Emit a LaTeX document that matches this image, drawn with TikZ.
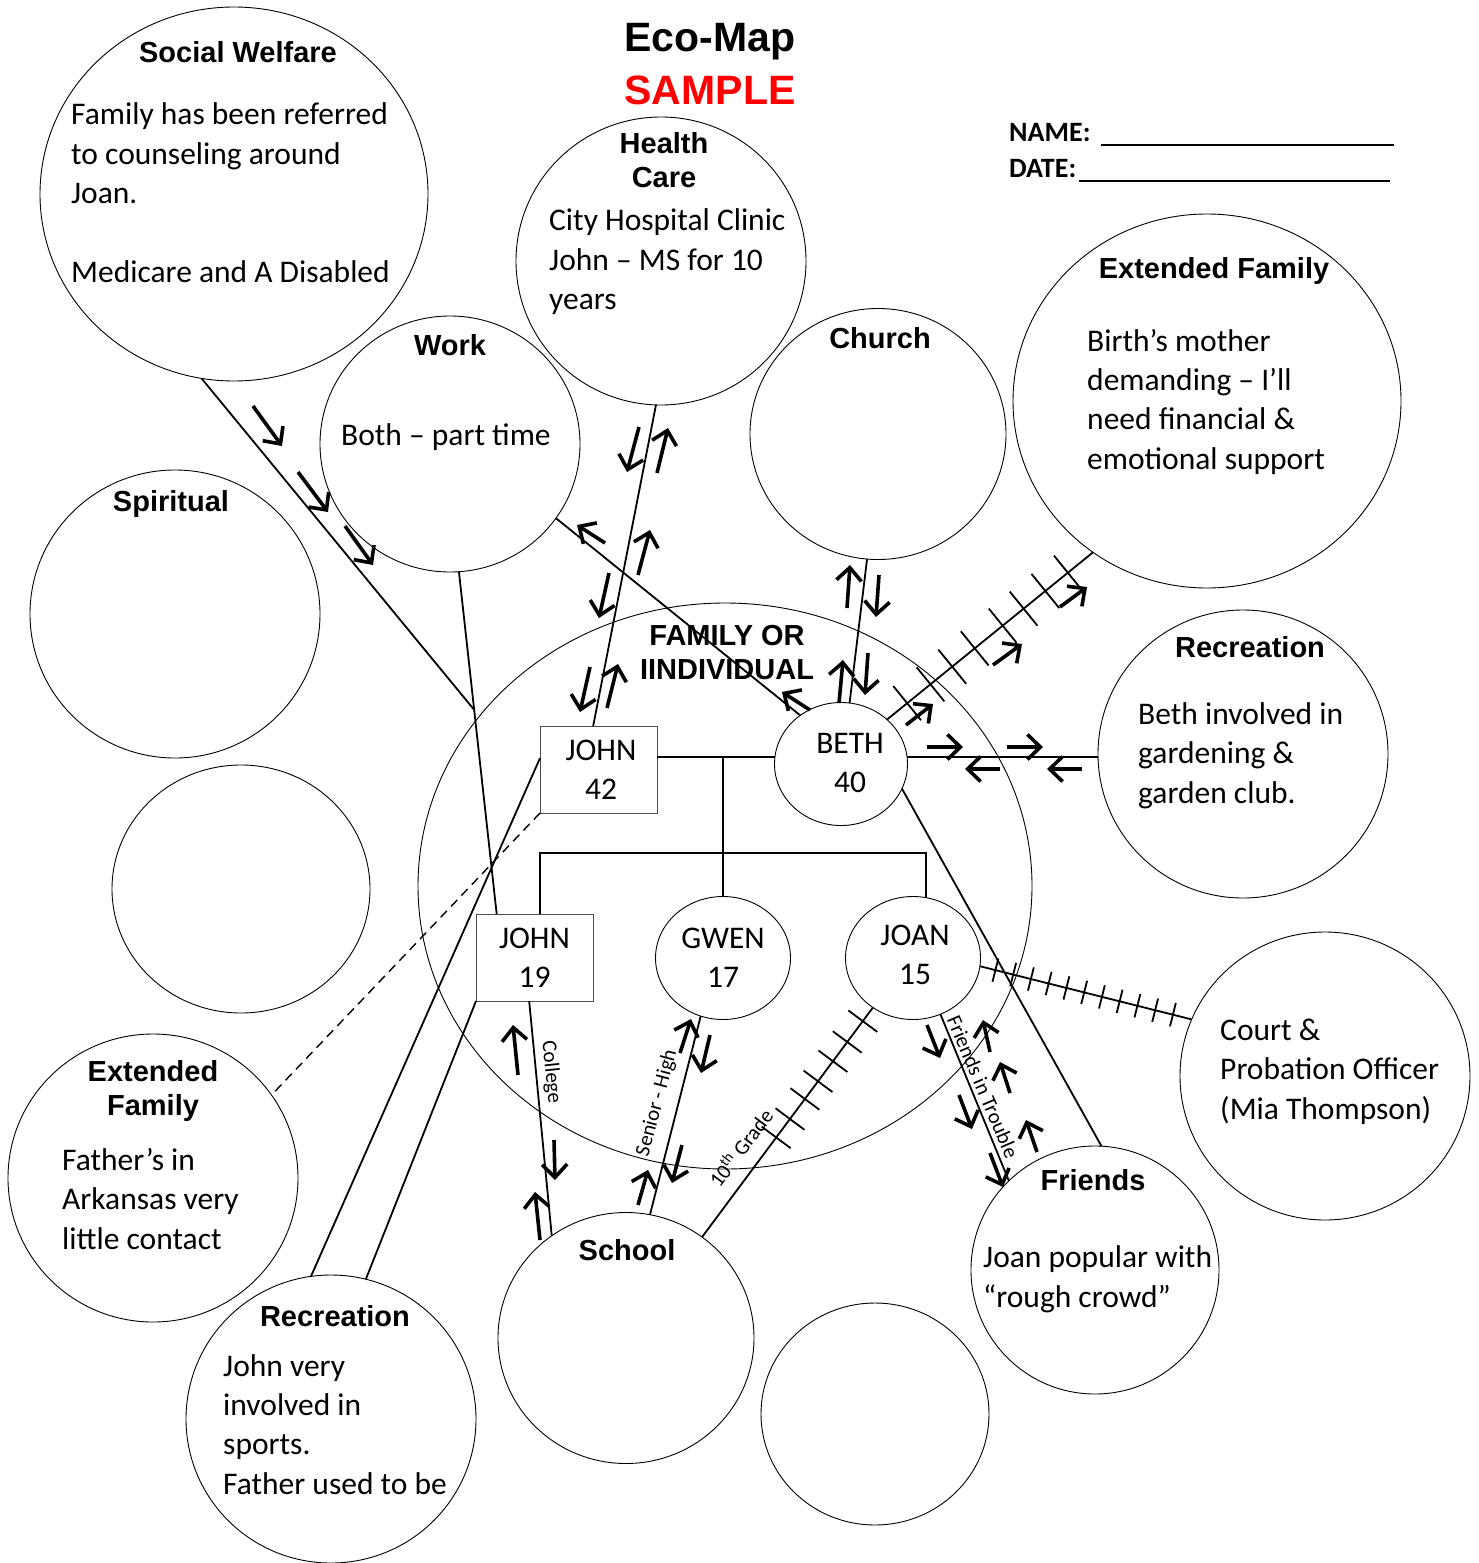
\documentclass[tikz,border=0pt]{standalone}
\usepackage{fontspec}
\setmainfont{Carlito}
\newfontfamily\headfont{Liberation Sans}
\usetikzlibrary{shapes.geometric,arrows.meta,calc}
\begin{document}
\begin{tikzpicture}[x=1pt,y=-1pt,
  circ/.style={draw, ellipse, line width=0.9pt, inner sep=0pt, outer sep=0pt},
  mbox/.style={draw=black!70, line width=0.9pt, rectangle, inner sep=0pt, outer sep=0pt, minimum width=117pt, minimum height=87pt, align=center, font=\fontsize{31.5}{39}\selectfont},
  mcirc/.style={circ, align=center, font=\fontsize{31.5}{39}\selectfont},
  memtxt/.style={align=center, inner sep=0pt, font=\fontsize{31.5}{39}\selectfont},
  ttl/.style={font=\headfont\bfseries\fontsize{29}{34}\selectfont, align=center, inner sep=0pt, anchor=base},
  bigttl/.style={font=\headfont\bfseries\fontsize{41}{48}\selectfont, inner sep=0pt, anchor=base},
  body/.style={font=\fontsize{31.5}{39.3}\selectfont, align=left, inner sep=0pt, anchor=base west},
  conn/.style={line width=1.8pt},
  flow/.style={line width=3.6pt, -{Straight Barb[length=13pt,width=25pt]}},
  tick/.style={line width=1.8pt},
  lbl/.style={font=\fontsize{21}{24}\selectfont, inner sep=0pt},
  formtxt/.style={font=\bfseries\fontsize{28}{32}\selectfont, inner sep=0pt, anchor=base west},
]
\useasboundingbox (0,0) rectangle (1478,1563);

% ---------- system circles ----------
\node[circ, minimum width=388pt, minimum height=374pt] (sw) at (234,194) {};
\node[circ, minimum width=290pt, minimum height=288pt] (hc) at (661,261) {};
\node[circ, minimum width=260pt, minimum height=256pt] (work) at (450,444) {};
\node[circ, minimum width=256pt, minimum height=251pt] (church) at (878,434) {};
\node[circ, minimum width=388pt, minimum height=374pt] (efR) at (1207,401) {};
\node[circ, minimum width=290pt, minimum height=288pt] (spir) at (175,614) {};
\node[circ, minimum width=258pt, minimum height=248pt] (emptyL) at (241,889) {};
\node[circ, minimum width=614pt, minimum height=566pt] (fam) at (725,886) {};
\node[circ, minimum width=290pt, minimum height=288pt] (recR) at (1243,754) {};
\node[circ, minimum width=290pt, minimum height=288pt] (court) at (1325,1076) {};
\node[circ, minimum width=290pt, minimum height=288pt] (efL) at (153,1178) {};
\node[circ, minimum width=290pt, minimum height=288pt] (recB) at (331,1419) {};
\node[circ, minimum width=256pt, minimum height=251pt] (school) at (626,1338) {};
\node[circ, minimum width=228pt, minimum height=222pt] (emptyB) at (875,1414) {};
\node[circ, minimum width=248pt, minimum height=248pt] (friends) at (1095,1270) {};

% ---------- family members ----------
\node[mbox] (john42) at (598.5,769.5) {\hspace*{5pt}JOHN\\\hspace*{5pt}42};
\node[circ, minimum width=133pt, minimum height=123pt] (beth) at (841,764) {};
\node[memtxt] (bethT) at (850,763) {BETH\\40};
\node[mbox] (john19) at (534.5,957.5) {JOHN\\19};
\node[mcirc, minimum width=135pt, minimum height=123pt] (gwen) at (723,958) {GWEN\\17};
\node[circ, minimum width=135pt, minimum height=123pt] (joan) at (913,958) {};
\node[memtxt] (joanT) at (915,955) {JOAN\\15};

% family tree lines
\coordinate (sib) at (722,853);
\draw[conn] (beth.174) -- (beth.174 -| john42.east);
\draw[conn] (beth.174 -| gwen.north) -- (gwen.north);
\draw[conn] (john19.north -| john42.west) -- (sib -| john42.west) -- (sib -| joan.78) -- (joan.78);

% ---------- connectors ----------
\coordinate (swj) at ($(work.274)!0.4035!(john19.131)$);
\draw[conn] (sw.260) -- (swj);
\draw[conn] (work.274) -- (john19.131);
\draw[conn] (work.-35) -- (beth.130);
\draw[conn] (hc.268) -- (john42.97);
\draw[conn] (church.265) -- (beth.82);
\draw[conn] (beth.44) -- (efR.233);
\draw[conn] (beth.6) -- (beth.6 -| recR.west);
\draw[conn] (beth.-22) -- (friends.87);
\draw[conn] (joan.-7) -- (court.157);
\draw[conn] (joan.231) -- (school.53);
\draw[conn] (gwen.249) -- (school.79);
\draw[conn] (john19.263) -- (school.126);
\draw[conn] (joan.-64) -- (friends.134);
\draw[conn] (john42.169) -- (recB.98);
\draw[conn] (john19.south west) -- (recB.76);
\draw[line width=1.4pt, dash pattern=on 9pt off 6pt] (john42.south west) -- (efL.35);

% stress hash marks
\foreach \t in {26,56,84,113,149,176,204,233}
  \draw[tick] ($(beth.44)!\t pt!(efR.233)!22pt!90:(efR.233)$) -- ($(beth.44)!\t pt!(efR.233)!22pt!-90:(efR.233)$);
\foreach \t in {16,34.3,52.6,70.9,89.2,107.5,125.8,144.1,162.4,180.7,199}
  \draw[tick] ($(joan.-7)!\t pt!(court.157)!12pt!90:(court.157)$) -- ($(joan.-7)!\t pt!(court.157)!12pt!-90:(court.157)$);
\foreach \t in {17,43,67,92,114,139,162}
  \draw[tick] ($(joan.231)!\t pt!(school.53)!18pt!90:(school.53)$) -- ($(joan.231)!\t pt!(school.53)!18pt!-90:(school.53)$);

% ---------- energy flow arrows ----------
\draw[flow] (253,406) -- (282,446);
\draw[flow] (298,472) -- (328,512);
\draw[flow] (345,526) -- (373,565);
\draw[flow] (605,543) -- (577,525);
\draw[flow] (810,710) -- (782,692);
\draw[flow] (639,427) -- (627,472);
\draw[flow] (657,473) -- (668,428);
\draw[flow] (638,575) -- (650,530);
\draw[flow] (609,573) -- (599,618);
\draw[flow] (590,667) -- (580,712);
\draw[flow] (607,708) -- (618,664);
\draw[flow] (847,608) -- (850,565);
\draw[flow] (879,575) -- (876,617);
\draw[flow] (839,703) -- (843,660);
\draw[flow] (868,653) -- (865,695);
\draw[flow] (906,725) -- (933,704);
\draw[flow] (993,665) -- (1022,644);
\draw[flow] (1060,607) -- (1087,587);
\draw[flow] (927,747) -- (963,747);
\draw[flow] (1007,747) -- (1043,747);
\draw[flow] (1000,769) -- (965,769);
\draw[flow] (1082,769) -- (1047,769);
\draw[flow] (518,1075) -- (513,1025);
\draw[flow] (554,1140) -- (555,1180);
\draw[flow] (540,1240) -- (535,1192);
\draw[flow] (680,1053) -- (691,1019);
\draw[flow] (710,1035) -- (701,1073);
\draw[flow] (682,1145) -- (672,1183);
\draw[flow] (638,1205) -- (648,1170);
\draw[flow] (927,1025) -- (940,1058);
\draw[flow] (959,1095) -- (972,1129);
\draw[flow] (990,1153) -- (1003,1187);
\draw[flow] (990,1052) -- (983,1020);
\draw[flow] (1010,1093) -- (1000,1062);
\draw[flow] (1037,1152) -- (1026,1120);

% ---------- connector labels ----------
\node[lbl, rotate=-84] (lcol) at (551,1072) {College};
\node[lbl, rotate=75] (lsen) at (657,1103) {Senior - High};
\node[lbl, rotate=53] (lten) at (740,1147) {10\textsuperscript{th} Grade};
\node[lbl, rotate=-67] (lfr) at (983,1087) {Friends in Trouble};

% ---------- texts (base anchor = baseline of the last line) ----------
\node[bigttl] (eco) at (710,52) {Eco-Map};
\node[bigttl, text=red] (sample) at (710,104) {SAMPLE};
\node[formtxt] (name) at (1009,141) {NAME:};
\node[formtxt] (date) at (1009,177) {DATE:};
\draw[line width=2pt] ([shift={(10,4)}]name.base east) -- ++(293,0);
\draw[line width=2pt] ([shift={(3,4)}]date.base east) -- ++(311,0);

\node[ttl] (swT) at (238,63) {Social Welfare};
\node[body] (swB) at (71,282) {Family has been referred\\to counseling around\\Joan.\\~\\Medicare and A Disabled};
\node[ttl] (hcT) at (664,187) {Health\\Care};
\node[body] (hcB) at (549,309.5) {City Hospital Clinic\\John – MS for 10\\years};
\node[ttl] (workT) at (450,355) {Work};
\node[body] (workB) at (341,445) {Both – part time};
\node[ttl] (churchT) at (880,348) {Church};
\node[ttl] (efRT) at (1214,278) {Extended Family};
\node[body] (efRB) at (1087,469) {Birth’s mother\\demanding – I’ll\\need financial \&\\emotional support};
\node[ttl] (spirT) at (171,511) {Spiritual};
\node[ttl] (recRT) at (1250,657) {Recreation};
\node[body] (recRB) at (1138,803) {Beth involved in\\gardening \&\\garden club.};
\node[body] (courtB) at (1220,1119) {Court \&\\Probation Officer\\(Mia Thompson)};
\node[ttl] (efLT) at (153,1115) {Extended\\Family};
\node[body] (efLB) at (62,1249) {Father’s in\\Arkansas very\\little contact};
\node[ttl] (recBT) at (335,1326) {Recreation};
\node[body] (recBB) at (223,1494) {John very\\involved in\\sports.\\Father used to be};
\node[ttl] (schoolT) at (627,1260) {School};
\node[ttl] (friendsT) at (1093,1190) {Friends};
\node[body] (friendsB) at (983,1307) {Joan popular with\\“rough crowd”};
\node[ttl] (famT) at (727,679) {FAMILY OR\\IINDIVIDUAL};
\end{tikzpicture}
\end{document}
